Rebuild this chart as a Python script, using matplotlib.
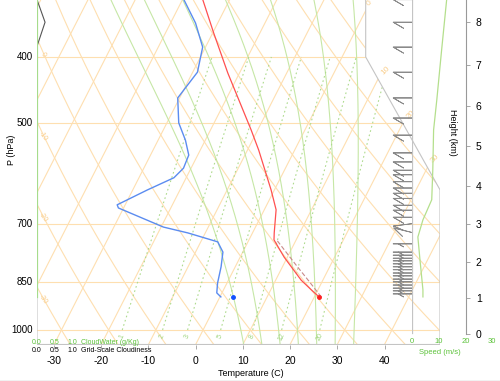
import numpy as np
import matplotlib
matplotlib.use("Agg")
import matplotlib.pyplot as plt
from matplotlib.patches import Polygon

plt.rcParams["font.family"] = ["Liberation Sans", "DejaVu Sans"]

# ---- sounding ----
t_pres = [330, 369, 422, 511, 547, 625, 668, 722, 739, 783, 846, 874, 895]
t_temp = [-35.7, -29.8, -22.5, -11.4, -7.6, -0.7, 2.5, 4.6, 5.3, 9.3, 15.4, 18.6, 21.0]

td_pres = [330, 357, 387, 421, 459, 499, 529, 556, 581, 600, 625, 657, 664,
           708, 722, 744, 770, 809, 854, 883, 895]
td_temp = [-39.7, -34.7, -30.6, -29.0, -30.4, -27.5, -24.2, -21.9, -21.6, -22.6,
           -26.9, -31.7, -31.1, -19.5, -13.7, -6.4, -4.2, -3.0, -2.0, -1.1, 0.2]

sfc_pres = 895
sfc_temp = 21.0
sfc_dewp = 2.7

parcel_pres = [895, 850, 800, 740]
parcel_temp = [21.0, 16.8, 11.8, 5.5]

spd_pres = [330, 391, 462, 511, 584, 646, 691, 732, 791, 874, 895]
spd_ms = [13.0, 11.1, 9.3, 8.1, 7.8, 7.4, 4.1, 2.2, 3.0, 4.1, 4.1]

barb_pres = [330, 356, 387, 421, 459, 491, 520, 552, 569, 585, 594, 608, 621,
             632, 643, 658, 669, 685, 700, 721, 749, 770, 778, 786, 793, 801,
             809, 817, 826, 834, 843, 851, 860, 869, 877, 886]
barb_u = [10, 10, 10, 10, 10, 10, 10, 10, 10, 10, 10, 10, 10,
          10, 10, 10, 10, 10, 8, 8, 5, 5, 5, 5, 5, 5,
          5, 5, 5, 5, 5, 5, 5, 5, 5, 5]
barb_v = [0, 0, 0, 0, 0, 0, 0, 0, 0, 0, 0, 0, 0,
          0, 0, 0, 0, 0, 1, -2, 0, 0, 0, 0, 0, 0,
          0, 0, 0, 0, 0, 0, 0, 0, 0, 0]

cloud_pres = [330, 356, 386, 895]
cloudiness = [0.0, 0.23, 0.0, 0.0]
cloudwater_pres = [330, 895]
cloudwater = [0.0, 0.0]

p_labels = [400, 500, 700, 850, 1000]
t_ticks = [-30, -20, -10, 0, 10, 20, 30, 40]
height_km = [0, 1, 2, 3, 4, 5, 6, 7, 8]
mix_ratios = [1, 2, 3, 5, 8, 12, 20]
moist_tw = [8, 12, 16, 20, 24, 28, 32]
iso_labels = [0, 10, 20, 30]
theta_labels = [0, -10, -20, -30]

ORANGE = "#fedfb0"
GREEN = "#c6e7a6"
GREEN_DOT = "#aedb8e"
GREEN_TXT = "#5cc23a"
GREY = "#c4c4c4"


def skewty(p):
    return 132.182 - 44.061 * np.log10(np.asarray(p, dtype=float))


def skewtx(t, y):
    return 0.54 * np.asarray(t, dtype=float) + 0.90692 * y


def std_pres(z_km):
    return 1013.25 * (1 - 2.25577e-5 * np.asarray(z_km) * 1000) ** 5.25588


def dtdp(t, p):
    tk = t + 273.15
    es = 6.112 * np.exp(17.67 * t / (t + 243.5))
    rs = 0.622 * es / (p - es)
    num = 287.04 * tk + 2.5e6 * rs
    den = 1005.7 + (2.5e6 ** 2 * rs * 0.622) / (287.04 * tk ** 2)
    return num / den / p


def moist(t0, p_end, dp):
    ps, ts = [1000.0], [t0]
    p, t = 1000.0, t0
    while (p - p_end) * np.sign(-dp) > 0:
        k1 = dtdp(t, p)
        k2 = dtdp(t + k1 * dp, p + dp)
        t += 0.5 * (k1 + k2) * dp
        p += dp
        ps.append(p)
        ts.append(t)
    return np.array(ps), np.array(ts)


YBOT = skewty(1050)
YTOP = 21.19
XL, XR = -19.0, 27.1

fig = plt.figure(figsize=(5.0, 3.81), dpi=100)
bot = (381 - 344.5) / 381
hgt = 344.5 / 381
ax = fig.add_axes([37 / 500, bot, 403 / 500, hgt])
ax.set_xlim(XL, XR)
ax.set_ylim(YBOT, YTOP)
for s in ax.spines.values():
    s.set_visible(False)

outline = Polygon(list(zip([XL, XR, XR, 18.6, 18.6, XL],
                           [YBOT, YBOT, 9.0, 17.53, 44.061, 44.061])),
                  closed=True, transform=ax.transData, fill=False,
                  edgecolor=GREY, lw=0.8, zorder=5)
ax.add_patch(outline)


def clipped(line_list):
    for ln in line_list:
        ln.set_clip_path(outline)


# isobars
for p in [1000, 850, 700, 500, 400, 300, 250, 200, 150, 100]:
    y = skewty(p)
    clipped(ax.plot([XL, XR], [y, y], color=ORANGE, lw=0.8, zorder=1))

# isotherms
yy = np.array([YBOT, 44.061])
for t in range(-100, 50, 10):
    clipped(ax.plot(skewtx(t, yy), yy, color=ORANGE, lw=0.8, zorder=1))

pp = np.linspace(1050, 100, 300)
yp = skewty(pp)
# dry adiabats
for th in range(-30, 160, 10):
    tt = (th + 273.15) * (pp / 1000.0) ** 0.2857 - 273.15
    clipped(ax.plot(skewtx(tt, yp), yp, color=ORANGE, lw=0.8, zorder=1))

# moist adiabats
for tw in moist_tw:
    pu, tu = moist(tw, 200.0, -2.0)
    pd, td = moist(tw, 1050.0, 2.0)
    pm = np.concatenate([pd[::-1], pu[1:]])
    tm = np.concatenate([td[::-1], tu[1:]])
    ym = skewty(pm)
    clipped(ax.plot(skewtx(tm, ym), ym, color=GREEN, lw=0.8, zorder=2))

# mixing ratio lines
pw = np.linspace(1000, 400, 60)
yw = skewty(pw)
for w in mix_ratios:
    e = w * pw / (622.0 + w)
    lg = np.log(e / 6.112)
    tw_ = 243.5 * lg / (17.67 - lg)
    clipped(ax.plot(skewtx(tw_, yw), yw, color=GREEN_DOT, lw=0.8, ls=(0, (1.5, 2.5)),
                    zorder=2))
    y0 = skewty(1022)
    e0 = w * 1022 / (622.0 + w)
    l0 = np.log(e0 / 6.112)
    ax.text(skewtx(243.5 * l0 / (17.67 - l0), y0) + 0.2, y0, str(w), color="#9ed47c",
            fontsize=5, rotation=65, ha="center", va="center", zorder=3)

# isotherm labels along the right edge
for t in iso_labels:
    s = (0.54 * t + 0.90692 * 17.53 - 18.6) / (8.5 + 0.90692 * 8.53)
    if s < 0:
        xi, yi = 18.6 + 0.35, (18.6 - 0.54 * t) / 0.90692 + 0.45
    else:
        xi, yi = 18.6 + 8.5 * s + 0.9, 17.53 - 8.53 * s + 0.55
    ax.text(xi, yi, str(t), color="#f9cd8a", fontsize=6, rotation=45,
            ha="center", va="center", clip_on=False, zorder=3)

# dry adiabat labels on the left edge
for th in theta_labels:
    tt = (th + 273.15) * (pp / 1000.0) ** 0.2857 - 273.15
    xx = skewtx(tt, yp)
    i = np.argmin(np.abs(xx - (-18.3)))
    ax.text(-18.3, yp[i] - 0.1, str(th), color="#f9cd8a", fontsize=5, rotation=-55,
            ha="center", va="center", zorder=3)

# profiles
yt = skewty(t_pres)
ax.plot(skewtx(t_temp, yt), yt, color="#ff5050", lw=0.9, zorder=6)
ytd = skewty(td_pres)
ax.plot(skewtx(td_temp, ytd), ytd, color="#5b8cf0", lw=1.0, zorder=6)
ypc = skewty(parcel_pres)
ax.plot(skewtx(parcel_temp, ypc) + 0.25, ypc, color="#c98a8a", lw=0.8,
        ls=(0, (4, 2)), zorder=6)
ys = skewty(sfc_pres)
ax.plot(skewtx(sfc_temp, ys), ys, "o", color="#ff2020", ms=2.5, zorder=7)
ax.plot(skewtx(sfc_dewp, ys), ys, "o", color="#1050ff", ms=2.5, zorder=7)

# cloud profiles at left edge (scale 0..1 over 35 px)
ycl = skewty(cloud_pres)
ax.plot(XL + np.array(cloudiness) * 35 / 8.742, ycl, color="#555555", lw=0.8, zorder=7)
ycw = skewty(cloudwater_pres)
ax.plot(XL + np.array(cloudwater) * 35 / 8.742, ycw, color="#a6dc8c", lw=1.6, zorder=8)

# pressure labels
for p in p_labels:
    ax.text(XL - 0.5, skewty(p), str(p), ha="right", va="center", fontsize=7)
fig.text(11 / 500, 1 - 150 / 381, "P (hPa)", rotation=90, ha="center", va="center",
         fontsize=6.5)

# temperature ticks
ax.set_xticks(skewtx(t_ticks, YBOT))
ax.set_xticklabels([str(t) for t in t_ticks], fontsize=7.5)
ax.tick_params(axis="x", length=3, width=0.5, color="#888888", pad=5.5)
ax.set_yticks([])
fig.text(251 / 500, 1 - 374 / 381, "Temperature (C)", ha="center", va="center",
         fontsize=6.5)

# cloud legend
for v, xpx in zip(["0.0", "0.5", "1.0"], [37, 55, 72]):
    fig.text(xpx / 500, 1 - 343 / 381, v, color=GREEN_TXT, fontsize=5, ha="center",
             va="center")
    fig.text(xpx / 500, 1 - 351 / 381, v, color="black", fontsize=5, ha="center",
             va="center")
fig.text(81 / 500, 1 - 343 / 381, "CloudWater (g/Kg)", color=GREEN_TXT, fontsize=5,
         va="center")
fig.text(81 / 500, 1 - 351 / 381, "Grid-Scale Cloudiness", color="black", fontsize=5,
         va="center")

# wind panel
axw = fig.add_axes([412 / 500, bot, 80 / 500, hgt])
axw.set_xlim(0, 30)
axw.set_ylim(YBOT, YTOP)
axw.axis("off")
axw.patch.set_alpha(0)
axw.plot([0, 0], [skewty(1000) - 0.2, YTOP], color=GREY, lw=0.9)
yb = skewty(barb_pres)
axw.barbs(np.zeros(len(yb)), yb, barb_u, barb_v, length=5.2, color="#8a8a8a",
          linewidth=0.6, sizes=dict(height=0.32, width=-1.1, spacing=0.18),
          flip_barb=True, clip_on=False)
ysp = skewty(spd_pres)
axw.plot(spd_ms, ysp, color="#b4df8c", lw=0.9, clip_on=False)
for s in [0, 10, 20, 30]:
    axw.text(s, skewty(1000) - 0.75, str(s), color=GREEN_TXT, fontsize=5.5,
             ha="center", va="center", clip_on=False)
fig.text(440 / 500, 1 - 352 / 381, "Speed (m/s)", color=GREEN_TXT, fontsize=5.5,
         ha="center", va="center")

# height axis
axh = fig.add_axes([0.5, bot, 466 / 500 - 0.5, hgt])
axh.set_ylim(YBOT, YTOP)
axh.patch.set_alpha(0)
for k in ["left", "top", "bottom"]:
    axh.spines[k].set_visible(False)
axh.spines["right"].set_color("#999999")
axh.spines["right"].set_linewidth(0.8)
yh = skewty(std_pres(height_km))
axh.spines["right"].set_bounds(yh[0], YTOP)
axh.set_xticks([])
axh.yaxis.tick_right()
axh.set_yticks(yh)
axh.set_yticklabels([str(h) for h in height_km], fontsize=7.5)
axh.tick_params(axis="y", length=3, width=0.6, color="#999999", pad=4)
fig.text(452 / 500, 1 - 132 / 381, "Height (km)", rotation=-90, ha="center",
         va="center", fontsize=6.5)

fig.add_artist(plt.Line2D([0, 1], [0.5 / 381, 0.5 / 381], color="#bbbbbb", lw=1.0))

fig.savefig("out.png", dpi=100)
